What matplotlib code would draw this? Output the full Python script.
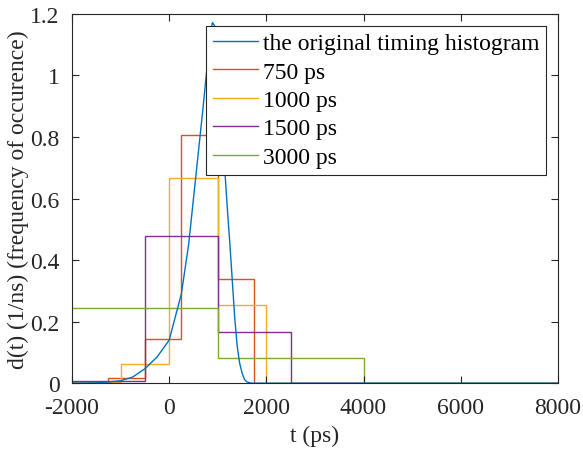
import matplotlib.pyplot as plt

# original timing histogram
t_orig = [-2000, -1500, -1250, -1000, -750, -500, -250, 0, 250, 400, 500,
          600, 700, 800, 850, 890, 940, 1000, 1050, 1100, 1150, 1200, 1250,
          1300, 1350, 1400, 1450, 1500, 1550, 1600, 1700, 8000]
d_orig = [0.0, 0.001, 0.004, 0.008, 0.02, 0.047, 0.085, 0.14, 0.29, 0.45, 0.6,
          0.75, 0.9, 1.06, 1.14, 1.172, 1.16, 1.06, 0.94, 0.81, 0.68, 0.56, 0.45,
          0.33, 0.21, 0.12, 0.065, 0.033, 0.012, 0.004, 0.0, 0.0]

# binned versions: bin edges and densities
edges_750 = [-2000, -1250, -500, 250, 1000, 1750, 8000]
vals_750 = [0.002, 0.016, 0.145, 0.808, 0.34, 0.0]
edges_1000 = [-2000, -1000, 0, 1000, 2000, 8000]
vals_1000 = [0.004, 0.062, 0.667, 0.254, 0.0]
edges_1500 = [-2000, -500, 1000, 2500, 8000]
vals_1500 = [0.007, 0.477, 0.166, 0.0]
edges_3000 = [-2000, 1000, 4000, 8000]
vals_3000 = [0.244, 0.081, 0.0]

labels = ["the original timing histogram", "750 ps", "1000 ps", "1500 ps", "3000 ps"]
colors = ["#0072BD", "#D95319", "#EDB120", "#7E2F8E", "#77AC30"]

plt.rcParams['font.family'] = ['Liberation Serif', 'DejaVu Serif']
plt.rcParams['font.size'] = 17
plt.rcParams['axes.unicode_minus'] = False

fig = plt.figure(figsize=(5.83, 4.52), dpi=100)
ax = fig.add_axes([0.1235, 0.150, 0.8335, 0.817])

lw = 1.0
ax.plot(t_orig, d_orig, color=colors[0], lw=lw, label=labels[0])
ax.stairs(vals_750, edges_750, baseline=None, color=colors[1], lw=lw, label=labels[1])
ax.stairs(vals_1000, edges_1000, baseline=None, color=colors[2], lw=lw, label=labels[2])
ax.stairs(vals_1500, edges_1500, baseline=None, color=colors[3], lw=lw, label=labels[3])
ax.stairs(vals_3000, edges_3000, baseline=None, color=colors[4], lw=lw, label=labels[4])

ax.set_xlim(-2000, 8000)
ax.set_ylim(0, 1.2)
ax.set_xticks([-2000, 0, 2000, 4000, 6000, 8000])
ax.set_yticks([0, 0.2, 0.4, 0.6, 0.8, 1.0, 1.2])
ax.set_yticklabels(["0", "0.2", "0.4", "0.6", "0.8", "1", "1.2"])
ax.tick_params(direction='in', top=True, right=True, length=5, width=0.8,
               colors='#262626', labelcolor='#262626')
ax.tick_params(axis='x', pad=10)
ax.tick_params(axis='y', pad=9)
for s in ax.spines.values():
    s.set_color('#262626')
    s.set_linewidth(0.8)

ax.set_xlabel("t (ps)", color='#262626', labelpad=5)
ax.set_ylabel("d(t) (1/ns) (frequency of occurence)", color='#262626', labelpad=1)

leg = ax.legend(loc='upper right', fancybox=False, framealpha=1, edgecolor='#262626',
                handlelength=1.9, handletextpad=0.2, labelspacing=0.29,
                borderpad=0.3, borderaxespad=0.5)
leg.get_frame().set_linewidth(0.8)

fig.savefig("out.png", dpi=100)
